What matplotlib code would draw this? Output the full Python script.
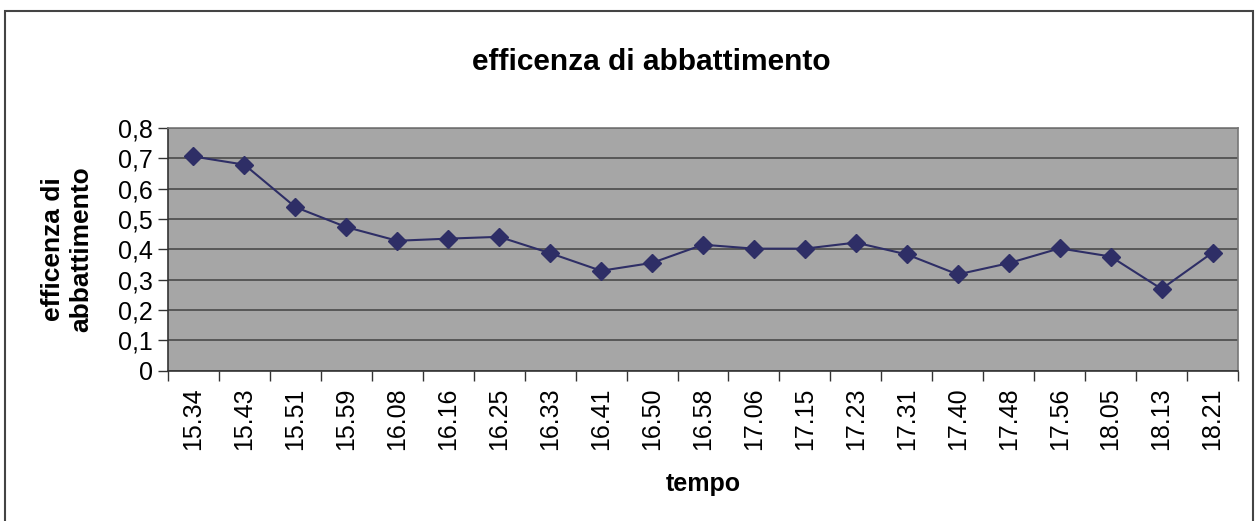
import matplotlib
matplotlib.use("Agg")
import matplotlib.pyplot as plt
from matplotlib.patches import Rectangle
from matplotlib.ticker import FixedLocator, FuncFormatter

plt.rcParams['font.family'] = ['Liberation Sans', 'DejaVu Sans']

tempo = ["15.34", "15.43", "15.51", "15.59", "16.08", "16.16", "16.25",
         "16.33", "16.41", "16.50", "16.58", "17.06", "17.15", "17.23",
         "17.31", "17.40", "17.48", "17.56", "18.05", "18.13", "18.21"]
efficienza = [0.706, 0.679, 0.539, 0.473, 0.428, 0.435, 0.441,
              0.387, 0.329, 0.355, 0.415, 0.402, 0.402, 0.422,
              0.383, 0.317, 0.354, 0.403, 0.376, 0.269, 0.389]
y_ticks = [0, 0.1, 0.2, 0.3, 0.4, 0.5, 0.6, 0.7, 0.8]

W, H = 1256, 521
fig = plt.figure(figsize=(W / 100, H / 100), dpi=100)
ax = fig.add_axes([168 / W, 1 - 370.5 / H, 1070 / W, 242.5 / H])

# outer chart frame
fig.patches.append(Rectangle((5 / W, -0.05), 1248 / W, 1.05 - 11 / H,
                             transform=fig.transFigure, fill=False,
                             edgecolor='#444444', linewidth=1.5))

x = list(range(len(tempo)))
ax.set_facecolor('#a6a6a6')
ax.plot(x, efficienza, color='#2e2e66', linewidth=1.5, marker='D',
        markersize=9, markerfacecolor='#2e2e66', markeredgecolor='#2e2e66',
        zorder=3)

ax.set_xlim(-0.5, len(tempo) - 0.5)
ax.set_ylim(0, 0.8)

ax.set_yticks(y_ticks)
ax.yaxis.set_major_formatter(FuncFormatter(
    lambda v, p: "0" if abs(v) < 1e-9 else f"{v:.1f}".replace(".", ",")))
ax.grid(axis='y', color='#4a4a4a', linewidth=1.2)
ax.set_axisbelow(True)

# category labels centred, tick marks on the boundaries
ax.set_xticks(x)
ax.set_xticklabels(tempo, rotation=90)
ax.xaxis.set_minor_locator(FixedLocator([i - 0.5 for i in range(len(tempo) + 1)]))
ax.tick_params(axis='x', which='major', length=0, pad=12, labelsize=18)
ax.tick_params(axis='x', which='minor', length=7, width=1, color='#333333')
ax.tick_params(axis='y', length=7, width=1, color='#333333', labelsize=18, pad=4)

for side in ('top', 'right'):
    ax.spines[side].set_color('#777777')
    ax.spines[side].set_linewidth(1.2)
for side in ('left', 'bottom'):
    ax.spines[side].set_color('#333333')
    ax.spines[side].set_linewidth(1.2)

fig.text(651 / W, 1 - 62 / H, "efficenza di abbattimento", fontsize=21.5,
         fontweight='bold', ha='center', va='center')
ax.set_xlabel("tempo", fontsize=18, fontweight='bold', labelpad=16)
ax.set_ylabel("efficenza di\nabbattimento", fontsize=19, fontweight='bold',
              linespacing=1.2)
ax.yaxis.set_label_coords((93 - 168) / 1070, 0.5)

fig.savefig("out.png", dpi=100)
